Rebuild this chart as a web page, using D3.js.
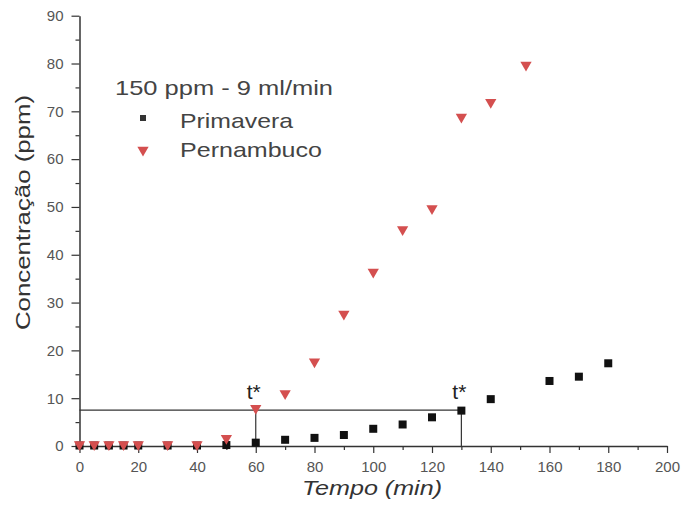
<!DOCTYPE html>
<html>
<head>
<meta charset="utf-8">
<script src="https://cdn.jsdelivr.net/npm/d3@7"></script>
<style>
  body { margin: 0; background: #fff; }
  svg { font-family: "Liberation Sans", Arial, sans-serif; }
  .axis path, .axis line { stroke: #333; }
  .axis text { fill: #555; font-size: 15px; }
</style>
</head>
<body>
<div id="chart"></div>
<script>
// Time (min) and concentration (ppm)
const primaveraX = [0, 5, 10, 15, 20, 30, 40, 50, 60, 70, 80, 90, 100, 110, 120, 130, 140, 160, 170, 180];
const primaveraY = [0.1, 0.1, 0.1, 0.1, 0.1, 0.1, 0.1, 0.2, 0.7, 1.3, 1.7, 2.3, 3.6, 4.5, 6.0, 7.4, 9.8, 13.6, 14.5, 17.3];
const pernambucoX = [0, 5, 10, 15, 20, 30, 40, 50, 60, 70, 80, 90, 100, 110, 120, 130, 140, 152];
const pernambucoY = [0.3, 0.3, 0.3, 0.3, 0.3, 0.3, 0.3, 1.6, 7.9, 11.0, 17.6, 27.6, 36.4, 45.3, 49.7, 68.8, 71.9, 79.7];
// t* breakthrough markers
const tStarX = [60, 130];
const tStarLevel = 7.5;
const xTicks = [0, 20, 40, 60, 80, 100, 120, 140, 160, 180, 200];
const yTicks = [0, 10, 20, 30, 40, 50, 60, 70, 80, 90];

const width = 681, height = 507;
const margin = {left: 79.5, right: 14, top: 15.7, bottom: 61};

const svg = d3.select('#chart').append('svg')
  .attr('width', width)
  .attr('height', height);

const x = d3.scaleLinear().domain([0, 200]).range([margin.left, width - margin.right]);
const y = d3.scaleLinear().domain([0, 90]).range([height - margin.bottom, margin.top]);

// minor ticks first, then the major axis on top
svg.append('g')
  .attr('class', 'axis')
  .attr('transform', 'translate(0,' + y(0) + ')')
  .call(d3.axisBottom(x).tickValues(d3.range(10, 200, 20)).tickSize(4).tickFormat(''))
  .select('.domain').remove();

svg.append('g')
  .attr('class', 'axis')
  .attr('transform', 'translate(' + x(0) + ',0)')
  .call(d3.axisLeft(y).tickValues(d3.range(5, 90, 10)).tickSize(4).tickFormat(''))
  .select('.domain').remove();

svg.append('g')
  .attr('class', 'axis')
  .attr('transform', 'translate(0,' + y(0) + ')')
  .call(d3.axisBottom(x).tickValues(xTicks).tickSize(7).tickSizeOuter(0).tickPadding(8));

svg.append('g')
  .attr('class', 'axis')
  .attr('transform', 'translate(' + x(0) + ',0)')
  .call(d3.axisLeft(y).tickValues(yTicks).tickSize(8).tickSizeOuter(0).tickPadding(8));

svg.selectAll('.axis path').attr('stroke-width', 1.5);
svg.selectAll('.axis line').attr('stroke-width', 1.2);

// axis titles (the source picture is a bit stretched sideways, hence textLength)
svg.append('text')
  .attr('x', 302)
  .attr('y', 495)
  .attr('font-size', 21)
  .attr('font-style', 'italic')
  .attr('fill', '#333')
  .attr('textLength', 140)
  .attr('lengthAdjust', 'spacingAndGlyphs')
  .text('Tempo (min)');

svg.append('text')
  .attr('transform', 'translate(30,330) rotate(-90)')
  .attr('font-size', 21)
  .attr('fill', '#333')
  .attr('textLength', 235)
  .attr('lengthAdjust', 'spacingAndGlyphs')
  .text('Concentração (ppm)');

// t* guide lines
svg.append('line')
  .attr('x1', x(0)).attr('x2', x(d3.max(tStarX)))
  .attr('y1', y(tStarLevel)).attr('y2', y(tStarLevel))
  .attr('stroke', '#333').attr('stroke-width', 1.2);

svg.selectAll('.tline')
  .data(tStarX)
  .enter().append('line')
  .attr('x1', d => x(d)).attr('x2', d => x(d))
  .attr('y1', y(0)).attr('y2', y(tStarLevel))
  .attr('stroke', '#333').attr('stroke-width', 1.2);

svg.selectAll('.tstar')
  .data(tStarX)
  .enter().append('text')
  .attr('x', d => x(d) - 2)
  .attr('y', y(tStarLevel) - 11)
  .attr('text-anchor', 'middle')
  .attr('font-size', 21)
  .attr('fill', '#222')
  .text('t*');

const triangle = d3.symbol().type(d3.symbolTriangle).size(55);

// Primavera (black squares)
svg.append('g')
  .selectAll('rect')
  .data(primaveraX.map((d, i) => [d, primaveraY[i]]))
  .enter().append('rect')
  .attr('x', d => x(d[0]) - 4)
  .attr('y', d => y(d[1]) - 4)
  .attr('width', 8)
  .attr('height', 8)
  .attr('fill', '#111');

// Pernambuco (red down triangles), drawn on top like in the source
svg.append('g')
  .selectAll('path')
  .data(pernambucoX.map((d, i) => [d, pernambucoY[i]]))
  .enter().append('path')
  .attr('d', triangle)
  .attr('transform', d => 'translate(' + x(d[0]) + ',' + y(d[1]) + ') rotate(180)')
  .attr('fill', '#d44f4f');

// legend
const legend = svg.append('g').attr('font-size', 21).attr('fill', '#444');
legend.append('text').attr('x', 115).attr('y', 95)
  .attr('textLength', 218).attr('lengthAdjust', 'spacingAndGlyphs')
  .text('150 ppm - 9 ml/min');
legend.append('rect').attr('x', 140).attr('y', 115).attr('width', 6).attr('height', 6).attr('fill', '#333');
legend.append('text').attr('x', 180).attr('y', 128)
  .attr('textLength', 113).attr('lengthAdjust', 'spacingAndGlyphs')
  .text('Primavera');
legend.append('path')
  .attr('d', triangle)
  .attr('transform', 'translate(143,150) rotate(180)')
  .attr('fill', '#d44f4f');
legend.append('text').attr('x', 180).attr('y', 157)
  .attr('textLength', 142).attr('lengthAdjust', 'spacingAndGlyphs')
  .text('Pernambuco');
</script>
</body>
</html>
